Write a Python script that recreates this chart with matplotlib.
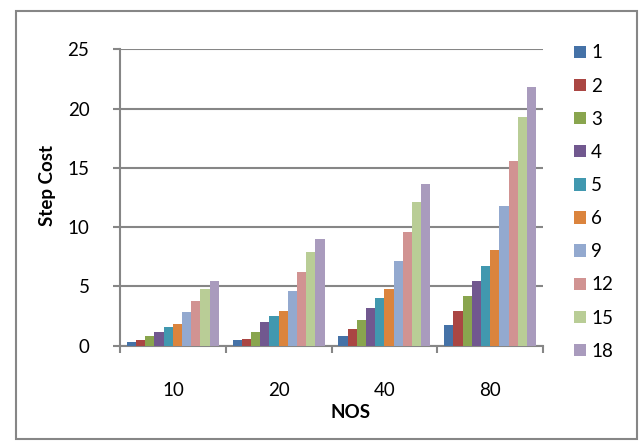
import matplotlib
matplotlib.use("Agg")
import matplotlib.pyplot as plt
import matplotlib.patches as mpatches
from matplotlib.ticker import FixedLocator
import numpy as np

plt.rcParams['font.family'] = ['Lato', 'DejaVu Sans']

categories = ['10', '20', '40', '80']
series_names = ['1', '2', '3', '4', '5', '6', '9', '12', '15', '18']
values = {
    '1':  [0.31, 0.45, 0.82, 1.78],
    '2':  [0.50, 0.53, 1.41, 2.96],
    '3':  [0.82, 1.13, 2.18, 4.23],
    '4':  [1.16, 1.98, 3.20, 5.49],
    '5':  [1.58, 2.49, 4.04, 6.76],
    '6':  [1.84, 2.91, 4.80, 8.03],
    '9':  [2.85, 4.60, 7.18, 11.75],
    '12': [3.78, 6.20, 9.60, 15.58],
    '15': [4.80, 7.90, 12.08, 19.27],
    '18': [5.48, 9.00, 13.68, 21.80],
}
colors = ['#4572A7', '#AA4643', '#89A54E', '#71588F', '#4198AF',
          '#DB843D', '#93A9CF', '#D19392', '#B9CD96', '#A99BBD']
y_ticks = [0, 5, 10, 15, 20, 25]

W, H = 640, 441
fig = plt.figure(figsize=(W / 100, H / 100), dpi=100)

# outer chart border
fig.patches.append(mpatches.Rectangle((16 / W, 2 / H), (637 - 16) / W, (430 - 2) / H,
                                      transform=fig.transFigure, fill=False,
                                      edgecolor='#868686', linewidth=1.5))

x0, x1, ytop, ybot = 120, 543, 49.3, 345.7
ax = fig.add_axes([x0 / W, (H - ybot) / H, (x1 - x0) / W, (ybot - ytop) / H])

grid_color = '#868686'
fs = 13.5
n = len(series_names)
width = 1.0 / (n + 1.5)
x = np.arange(len(categories))
for i, name in enumerate(series_names):
    ax.bar(x + (i - (n - 1) / 2) * width, values[name], width=width,
           color=colors[i], label=name, zorder=3)

ax.set_xlim(-0.5, len(categories) - 0.5)
ax.set_ylim(0, 25)
ax.set_yticks(y_ticks)
ax.set_xticks(x)
ax.set_xticklabels(categories)
ax.xaxis.set_minor_locator(FixedLocator(np.arange(-0.5, len(categories), 1.0)))
ax.tick_params(axis='x', which='major', length=0, pad=26, labelsize=fs)
ax.tick_params(axis='x', which='minor', length=5, width=1.5, color=grid_color)
ax.tick_params(axis='y', length=5, width=1.5, color=grid_color, pad=17, labelsize=fs)

ax.grid(axis='y', color=grid_color, linewidth=1.5, zorder=0)
for side in ['top', 'right']:
    ax.spines[side].set_visible(False)
for side in ['left', 'bottom']:
    ax.spines[side].set_color(grid_color)
    ax.spines[side].set_linewidth(1.5)

ax.text((48 - x0) / (x1 - x0), (ybot - 185) / (ybot - ytop), 'Step Cost',
        rotation=90, ha='center', va='center', fontsize=fs, fontweight='bold',
        transform=ax.transAxes)
ax.text((350 - x0) / (x1 - x0), (ybot - 413) / (ybot - ytop), 'NOS',
        ha='center', va='center', fontsize=fs, fontweight='bold',
        transform=ax.transAxes)

leg = fig.legend(loc='upper left', bbox_to_anchor=(566 / W, (H - 37) / H),
                 frameon=False, fontsize=fs, handlelength=0.64, handleheight=0.64,
                 handletextpad=0.3, labelspacing=0.86, borderaxespad=0)

fig.savefig('out.png', dpi=100)
